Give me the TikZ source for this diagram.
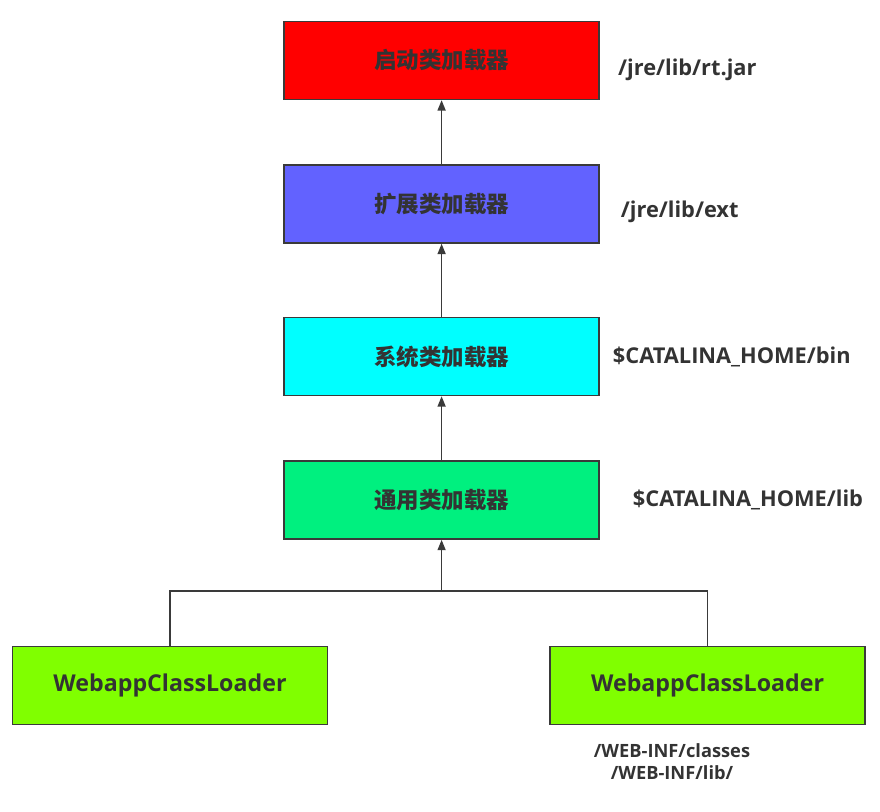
\documentclass[tikz,border=0pt]{standalone}
\usepackage{fontspec}
\setmainfont{Open Sans}
\newfontfamily\cjk{Noto Sans CJK SC}
\usepackage{tikz}
\usetikzlibrary{arrows, arrows.meta, positioning, shapes}
\definecolor{lineg}{HTML}{3A3A3A}
\definecolor{txtg}{HTML}{333333}
\definecolor{bootred}{HTML}{FF0000}
\definecolor{extblue}{HTML}{6262FF}
\definecolor{syscyan}{HTML}{00FFFF}
\definecolor{comgreen}{HTML}{00F07F}
\definecolor{weblime}{HTML}{80FF00}
\tikzstyle{box} = [rectangle, draw=lineg, line width=1.1pt, minimum height=1.95cm, minimum width=7.875cm, text=txtg, font=\cjk\bfseries\fontsize{16}{18}\selectfont]
\tikzstyle{web} = [box, fill=weblime, font=\bfseries\fontsize{16.5}{18}\selectfont]
\tikzstyle{dir} = [inner sep=0pt, text=txtg, font=\bfseries\fontsize{15.5}{18}\selectfont]
\tikzstyle{arrow} = [line width=1.1pt, draw=lineg, -{Triangle[length=2.6mm, width=2mm]}]
\tikzstyle{conn} = [line width=1.1pt, draw=lineg]

\begin{document}
\begin{tikzpicture}[auto, align=center, node distance = 0cm]
\useasboundingbox (0,0) rectangle (22,-20.3);

\node(L1)[box, fill=bootred] at (11.04,-1.51) {启动类加载器};
\node(L2)[box, fill=extblue, below = 1.6cm of L1] {扩展类加载器};
\node(L3)[box, fill=syscyan, below = 1.825cm of L2] {系统类加载器};
\node(L4)[box, fill=comgreen, below = 1.6cm of L3] {通用类加载器};

\node(W1)[web] at (4.25,-17.14) {WebappClassLoader};
\node(W2)[web] at (17.69,-17.14) {WebappClassLoader};

\node(D1)[dir, right = 0.45cm of L1, yshift=-0.24cm] {/jre/lib/rt.jar};
\node(D2)[dir, right = 0.52cm of L2, yshift=-0.2cm] {/jre/lib/ext};
\node(D3)[dir, right = 0.32cm of L3] {\$CATALINA\_HOME/bin};
\node(D4)[dir, right = 0.82cm of L4] {\$CATALINA\_HOME/lib};
\node(D5)[dir, font=\bfseries\fontsize{13}{15.6}\selectfont, below = 0.45cm of W2, xshift=-0.89cm] {/WEB-INF/classes\\/WEB-INF/lib/};

\coordinate(J) at (L4.south |- 0,-14.78);

\draw [arrow] (L2) -- (L1);
\draw [arrow] (L3) -- (L2);
\draw [arrow] (L4) -- (L3);
\draw [conn] (W1.north) |- (J);
\draw [conn] (W2.north) |- (J);
\draw [arrow] (J) -- (L4);

\end{tikzpicture}
\end{document}
